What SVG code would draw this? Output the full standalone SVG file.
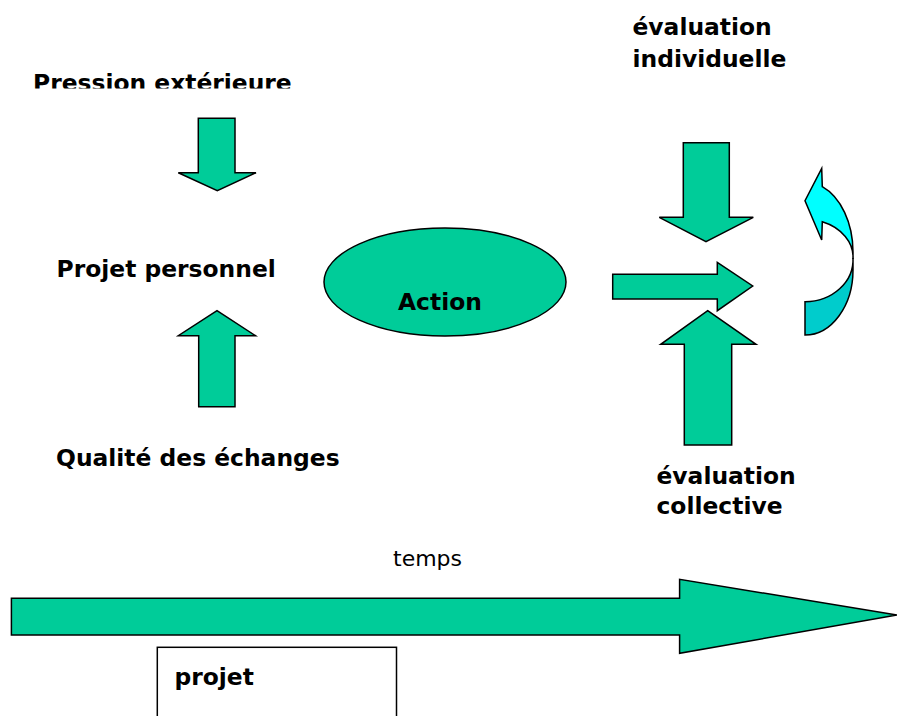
<svg xmlns="http://www.w3.org/2000/svg" width="897" height="716" viewBox="0 0 897 716">
<defs>
<style>
.lbl{font-family:"DejaVu Sans","Liberation Sans",sans-serif;font-weight:bold;font-size:23.4px;fill:#000}
.reg{font-family:"DejaVu Sans","Liberation Sans",sans-serif;font-size:22px;fill:#000}
.g{fill:#00CC99;stroke:#000;stroke-width:1.5;stroke-linejoin:miter}
</style>
<clipPath id="clipTop"><rect x="0" y="0" width="897" height="88.5"/></clipPath>
</defs>
<rect width="897" height="716" fill="#fff"/>

<g id="connectors">
<path id="arrow-pression" class="g" d="M198.3,118.3 H235 V172.7 H256 L217.3,190.7 L178.3,172.7 H198.3 Z"/>
<path id="arrow-qualite" class="g" d="M217,310.7 L255.5,335.7 H235 V406.7 H198.7 V335.7 H178.3 Z"/>
<path id="arrow-action" class="g" d="M612.7,274.3 H717.3 V262.3 L752.7,286 L717.3,310.7 V299 H612.7 Z"/>
<path id="arrow-indiv" class="g" d="M683.3,142.7 H729.3 V217.3 H753.3 L706,241.7 L659.3,217.3 H683.3 Z"/>
<path id="arrow-coll" class="g" d="M707.7,310.7 L756,344.3 H731.7 V445 H684.3 V344.3 H660.7 Z"/>
<g id="arrow-curve" stroke="#000" stroke-width="1.5" stroke-linejoin="miter">
<path fill="#00CCCC" d="M853,258 L853,270 A48,65 0 0 1 805,335 L805,301.7 A48,42 0 0 0 853,258 Z"/>
<path fill="#00FFFF" d="M821.7,168.3 L822.3,186.7 A48,70 0 0 1 853,252 L853,259 A48,38 0 0 0 822.3,221.7 L821.7,240 L805,200.7 Z"/>
</g>
<path id="arrow-temps" class="g" d="M11.4,598.3 H679.6 V579.3 L897,615 L679.6,653.3 V635 H11.4 Z"/>
</g>

<g id="node-pression">
<text class="lbl" x="33" y="90.5" clip-path="url(#clipTop)">Pression extérieure</text>
</g>
<g id="node-projet-personnel">
<text class="lbl" x="56.5" y="276.7">Projet personnel</text>
</g>
<g id="node-qualite">
<text class="lbl" x="56" y="466">Qualité des échanges</text>
</g>
<g id="node-action">
<ellipse class="g" cx="445" cy="282" rx="121" ry="54"/>
<text class="lbl" x="398" y="310">Action</text>
</g>
<g id="node-eval-indiv">
<text class="lbl" x="632.5" y="35">évaluation</text>
<text class="lbl" x="632.5" y="66.7">individuelle</text>
</g>
<g id="node-eval-coll">
<text class="lbl" x="656.5" y="484">évaluation</text>
<text class="lbl" x="656.5" y="514">collective</text>
</g>
<g id="node-temps">
<text class="reg" x="393" y="565.7">temps</text>
</g>
<g id="node-projet">
<rect x="157.3" y="647.3" width="239.2" height="80" fill="#fff" stroke="#000" stroke-width="1.5"/>
<text class="lbl" x="174.5" y="685">projet</text>
</g>
</svg>
